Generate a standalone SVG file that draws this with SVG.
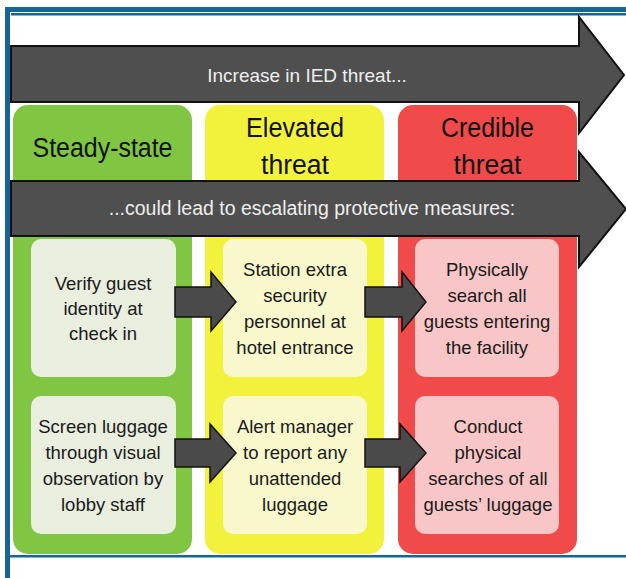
<svg xmlns="http://www.w3.org/2000/svg" width="626" height="578" viewBox="0 0 626 578">
<style>
.banner{fill:#4f4f4f;stroke:#111;stroke-width:2;stroke-linejoin:miter}
.btxt{font-family:"Liberation Sans",Arial,sans-serif;fill:#eeeeee;text-anchor:middle}
.htxt{font-family:"Liberation Sans",Arial,sans-serif;font-size:27px;fill:#111;text-anchor:middle}
.t{font-family:"Liberation Sans",Arial,sans-serif;font-size:18.5px;fill:#1a1a1a;text-anchor:middle}
.conn{fill:#4a4a4a;stroke:#111;stroke-width:1.5;stroke-linejoin:miter}
.green{fill:#80c642}
.yellow{fill:#f2f23c}
.red{fill:#f04a4a}
.gin{fill:#e9eedf}
.yin{fill:#f8f8cc}
.rin{fill:#f8c6c6}
.frame{fill:#15659a}
</style>
<rect width="626" height="578" fill="#ffffff"/>
<g id="frame">
<rect class="frame" x="5" y="7" width="621" height="5"/>
<rect class="frame" x="5" y="7" width="5" height="571"/>
<rect class="frame" x="11" y="13" width="615" height="2.5"/>
<rect class="frame" x="10" y="555" width="616" height="2.5"/>
</g>
<g id="col-steady">
<rect class="green" x="13" y="105" width="179" height="449" rx="15"/>
<text class="htxt" x="102.5" y="157" textLength="140" lengthAdjust="spacingAndGlyphs">Steady-state</text>
</g>
<g id="col-elevated">
<rect class="yellow" x="205" y="105" width="179" height="449" rx="15"/>
<text class="htxt" x="295" y="137" textLength="98" lengthAdjust="spacingAndGlyphs">Elevated</text>
<text class="htxt" x="295" y="174" textLength="68" lengthAdjust="spacingAndGlyphs">threat</text>
</g>
<g id="col-credible">
<rect class="red" x="398" y="105" width="179" height="449" rx="15"/>
<text class="htxt" x="487.5" y="137" textLength="93" lengthAdjust="spacingAndGlyphs">Credible</text>
<text class="htxt" x="487.5" y="174" textLength="68" lengthAdjust="spacingAndGlyphs">threat</text>
</g>
<g id="banner-increase">
<polygon class="banner" points="11,46 579,46 579,17 624,75 579,133 579,102 11,102"/>
<text class="btxt" x="307" y="82" font-size="19">Increase in IED threat...</text>
</g>
<g id="banner-escalate">
<polygon class="banner" points="11,181 579,181 579,152 626,209 579,267 579,236 11,236"/>
<text class="btxt" x="312" y="215" font-size="19.5">...could lead to escalating protective measures:</text>
</g>
<g id="box-verify">
<rect class="gin" x="31" y="239" width="145" height="138" rx="10"/>
<text class="t" x="103" y="290">Verify guest</text>
<text class="t" x="103" y="315">identity at</text>
<text class="t" x="103" y="340">check in</text>
</g>
<g id="box-station">
<rect class="yin" x="223" y="239" width="144" height="138" rx="10"/>
<text class="t" x="295" y="276">Station extra</text>
<text class="t" x="295" y="302">security</text>
<text class="t" x="295" y="328">personnel at</text>
<text class="t" x="295" y="354">hotel entrance</text>
</g>
<g id="box-physically">
<rect class="rin" x="415" y="239" width="144" height="138" rx="10"/>
<text class="t" x="487" y="276">Physically</text>
<text class="t" x="487" y="302">search all</text>
<text class="t" x="487" y="328">guests entering</text>
<text class="t" x="487" y="354">the facility</text>
</g>
<g id="box-screen">
<rect class="gin" x="31" y="396" width="145" height="138" rx="10"/>
<text class="t" x="103" y="433">Screen luggage</text>
<text class="t" x="103" y="459">through visual</text>
<text class="t" x="103" y="485">observation by</text>
<text class="t" x="103" y="511">lobby staff</text>
</g>
<g id="box-alert">
<rect class="yin" x="223" y="396" width="144" height="138" rx="10"/>
<text class="t" x="295" y="433">Alert manager</text>
<text class="t" x="295" y="459">to report any</text>
<text class="t" x="295" y="485">unattended</text>
<text class="t" x="295" y="511">luggage</text>
</g>
<g id="box-conduct">
<rect class="rin" x="415" y="396" width="144" height="138" rx="10"/>
<text class="t" x="488" y="433">Conduct</text>
<text class="t" x="488" y="459">physical</text>
<text class="t" x="488" y="485">searches of all</text>
<text class="t" x="488" y="511">guests’ luggage</text>
</g>
<g id="connectors">
<polygon class="conn" points="175,287 211,287 211,272 236,302 211,331 211,317 175,317"/>
<polygon class="conn" points="365,287 402,287 402,272 426,302 402,331 402,317 365,317"/>
<polygon class="conn" points="175,439 210,439 210,424 236,453 210,482 210,467 175,467"/>
<polygon class="conn" points="365,439 400,439 400,424 426,453 400,482 400,467 365,467"/>
</g>
</svg>
